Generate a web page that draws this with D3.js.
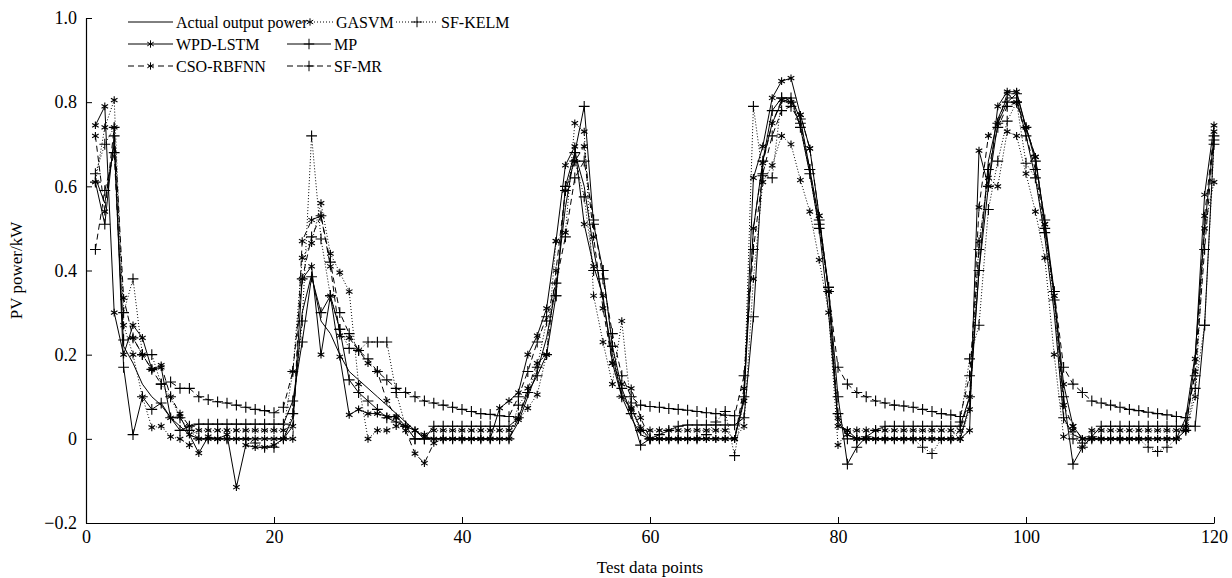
<!DOCTYPE html>
<html>
<head>
<meta charset="utf-8">
<script src="https://cdn.jsdelivr.net/npm/d3@7"></script>
<style>
  body { margin: 0; background: #fff; }
  text { font-family: "Liberation Serif", "Times New Roman", serif; }
</style>
</head>
<body>
<div id="chart"></div>
<script>
// test data points 1..120
var actual = [
  0.62,0.56,0.70,0.22,0.18,0.13,0.10,0.08,0.05,0.03,0.01,0,0,0,0,0,0,0,0,0,
  0,0.05,0.30,0.39,0.28,0.25,0.20,0.16,0.14,0.12,0.10,0.08,0.06,0.04,0.02,0,0,0,0,0,
  0,0,0,0,0,0.04,0.10,0.16,0.24,0.36,0.55,0.68,0.60,0.45,0.33,0.20,0.10,0.05,0.01,0,
  0,0,0,0,0,0,0,0,0,0.10,0.50,0.66,0.75,0.80,0.81,0.74,0.63,0.50,0.30,0.04,
  0.01,0,0,0,0,0,0,0,0,0,0,0,0,0.08,0.40,0.66,0.76,0.81,0.81,0.72,
  0.62,0.48,0.30,0.05,0.01,0,0,0,0,0,0,0,0,0,0,0,0.05,0.20,0.50,0.72
];
var wpdLstm = [
  0.745,0.79,0.30,0.20,0.27,0.24,0.165,0.17,0.05,0.053,0.01,-0.034,0.005,0,0.01,-0.115,-0.015,-0.02,-0.02,-0.015,
  0,0.03,0.38,0.41,0.20,0.34,0.195,0.057,0.07,0.06,0.06,0.053,0.053,0.03,0.02,0.005,0,0,0,0,
  0,0,0,0.073,0.09,0.11,0.20,0.245,0.31,0.47,0.65,0.695,0.51,0.41,0.34,0.18,0.10,0.073,0.025,0,
  0,0,0,0,0,0,0,0,0,0.09,0.62,0.695,0.81,0.85,0.857,0.77,0.69,0.53,0.35,0.03,
  0.02,0,0,0,0,0,0,0,0,0,0,0,0,0.02,0.685,0.60,0.79,0.825,0.825,0.74,
  0.67,0.51,0.34,0.13,0.03,0,0,0,0,0,0,0,0,0,0,0,0.02,0.19,0.58,0.745
];
var csoRbfnn = [
  0.72,0.54,0.74,0.335,0.24,0.20,0.165,0.175,0.10,0.06,0.03,0,0,0,0,0,0,0,0,0,
  0,0,0.47,0.52,0.53,0.41,0.245,0.24,0.21,0.18,0.16,0.09,0.05,0.02,-0.035,-0.058,-0.01,0,0,0,
  0,0,0,0,0,0.05,0.12,0.18,0.20,0.40,0.59,0.66,0.695,0.48,0.31,0.18,0.13,0.12,0.05,0,
  0,0,0,0,0,0,0,0,0,0.12,0.50,0.655,0.75,0.805,0.80,0.77,0.69,0.53,0.35,0.05,
  0.01,0,0,0,0,0,0,0,0,0,0,0,0.02,0.10,0.55,0.72,0.75,0.82,0.80,0.74,
  0.67,0.51,0.34,0.08,0.03,0,0,0,0,0,0,0,0,0,0,0,0.03,0.16,0.53,0.73
];
var gasvm = [
  0.61,0.74,0.805,0.27,0.20,0.10,0.027,0.03,0.005,0,-0.015,0.02,0.02,0.02,0.02,0.02,0.02,0.02,0.02,0.02,
  0.02,0.16,0.43,0.465,0.56,0.44,0.395,0.35,0.13,0,0.02,0.02,0.03,0.03,0.02,0.01,0.02,0.02,0.02,0.02,
  0.02,0.02,0.02,0.02,0.02,0.045,0.073,0.105,0.20,0.47,0.49,0.75,0.73,0.34,0.23,0.13,0.28,0.07,0.02,0.02,
  0.02,0.02,0.02,0.02,0.02,0.02,0.02,0.02,0,0.03,0.38,0.61,0.65,0.72,0.70,0.615,0.54,0.425,0.30,-0.015,
  0.02,0.02,0.02,0.02,0.02,0.02,0.02,0.02,0.02,0.02,0.02,0.02,0,0.07,0.47,0.62,0.60,0.73,0.72,0.63,
  0.54,0.43,0.20,0.005,0.02,-0.02,0.02,0.02,0.02,0.02,0.02,0.02,0.02,0.02,0.02,0.02,0.02,0.10,0.50,0.61
];
var sfKelm = [
  0.63,0.70,0.74,0.30,0.38,0.20,0.20,0.13,0.10,0.05,0.02,0,0,0,0,0,0,-0.01,-0.02,-0.02,
  0,0.06,0.28,0.72,0.475,0.34,0.26,0.215,0.21,0.23,0.23,0.23,0.11,0.03,0,0,0,0,0,0,
  0,0,0,0,0,0.08,0.11,0.17,0.28,0.34,0.59,0.66,0.575,0.40,0.40,0.22,0.10,0.085,0.02,0,
  0,0,0,0,0,0.01,0.04,0.065,-0.04,0.10,0.79,0.625,0.62,0.81,0.80,0.74,0.63,0.50,0.36,0.06,
  0,0,0,0,0,0,0,0,-0.02,-0.035,0,0,0.04,0.19,0.27,0.545,0.66,0.755,0.80,0.655,
  0.62,0.49,0.33,0.05,0,-0.01,0,0,0,0,0,0,-0.02,-0.03,-0.02,0,0.02,0.12,0.27,0.70
];
var mp = [
  0.61,0.51,0.72,0.17,0.01,0.10,0.07,0.085,0.05,0.02,0.03,0.035,0.035,0.035,0.035,0.035,0.035,0.035,0.035,0.035,
  0.035,0.09,0.23,0.385,0.30,0.34,0.26,0.14,0.11,0.09,0.07,0.05,0.04,0.03,0,0,0.03,0.03,0.03,0.03,
  0.03,0.03,0.03,0.03,0.03,0.05,0.11,0.15,0.20,0.34,0.60,0.68,0.79,0.51,0.40,0.22,0.12,0.06,-0.015,0,
  0.01,0.02,0.03,0.033,0.033,0.033,0.033,0.033,0.033,0.05,0.29,0.66,0.78,0.81,0.81,0.76,0.64,0.52,0.36,0.10,
  -0.06,-0.02,0.005,0.02,0.03,0.03,0.03,0.03,0.03,0.03,0.03,0.03,0.03,0.10,0.40,0.60,0.75,0.80,0.82,0.74,
  0.66,0.52,0.35,0.10,-0.06,-0.02,0.005,0.03,0.03,0.03,0.03,0.03,0.03,0.03,0.03,0.03,0.03,0.03,0.27,0.71
];
var sfMr = [
  0.45,0.59,0.68,0.235,0.24,0.20,0.165,0.13,0.135,0.12,0.12,0.10,0.093,0.088,0.085,0.08,0.075,0.07,0.067,0.062,
  0.075,0.16,0.38,0.48,0.53,0.42,0.30,0.25,0.21,0.19,0.16,0.14,0.12,0.11,0.10,0.09,0.085,0.08,0.075,0.07,
  0.065,0.06,0.058,0.055,0.053,0.10,0.16,0.23,0.29,0.37,0.48,0.62,0.66,0.52,0.38,0.25,0.15,0.10,0.08,0.077,
  0.075,0.072,0.07,0.068,0.065,0.062,0.06,0.056,0.055,0.15,0.45,0.63,0.72,0.78,0.79,0.75,0.64,0.51,0.35,0.17,
  0.13,0.11,0.10,0.09,0.085,0.08,0.078,0.075,0.07,0.065,0.06,0.057,0.053,0.15,0.45,0.64,0.74,0.79,0.80,0.72,
  0.64,0.50,0.35,0.17,0.13,0.11,0.09,0.085,0.08,0.075,0.07,0.067,0.063,0.06,0.057,0.053,0.05,0.15,0.45,0.72
];
var xTicks = [0, 20, 40, 60, 80, 100, 120];
var yTicks = [-0.2, 0, 0.2, 0.4, 0.6, 0.8, 1.0];

function init() {
    var w = 1232, h = 578;
    var margin = { left: 86, right: 18, top: 18, bottom: 55 };

    var series = [
        { name: "Actual output power", values: actual, dash: null, marker: null },
        { name: "WPD-LSTM", values: wpdLstm, dash: null, marker: d3.symbolAsterisk },
        { name: "CSO-RBFNN", values: csoRbfnn, dash: "6,4", marker: d3.symbolAsterisk },
        { name: "GASVM", values: gasvm, dash: "1,2", marker: d3.symbolAsterisk },
        { name: "SF-KELM", values: sfKelm, dash: "1,2", marker: d3.symbolPlus },
        { name: "MP", values: mp, dash: null, marker: d3.symbolPlus },
        { name: "SF-MR", values: sfMr, dash: "6,4", marker: d3.symbolPlus }
    ];

    var svg = d3.select("#chart")
        .append("svg")
        .attr("width", w)
        .attr("height", h);

    var xScale = d3.scaleLinear()
        .domain([0, 120])
        .range([margin.left, w - margin.right]);

    var yScale = d3.scaleLinear()
        .domain([-0.2, 1.0])
        .range([h - margin.bottom, margin.top]);

    // axes, ticks pointing inward
    var xAxis = svg.append("g")
        .attr("transform", "translate(0," + (h - margin.bottom) + ")")
        .call(d3.axisBottom(xScale).tickValues(xTicks).tickSize(-6).tickSizeOuter(0).tickPadding(4));

    var yAxis = svg.append("g")
        .attr("transform", "translate(" + margin.left + ",0)")
        .call(d3.axisLeft(yScale).tickValues(yTicks).tickSize(-6).tickSizeOuter(0).tickPadding(9)
            .tickFormat(function (d) { return Math.abs(d) < 1e-9 ? "0" : d3.format(".1f")(d); }));

    svg.selectAll(".domain").attr("stroke", "#000").attr("stroke-width", 1.2);
    svg.selectAll(".tick line").attr("stroke", "#000");
    svg.selectAll(".tick text")
        .attr("fill", "#000")
        .style("font-size", "18px")
        .style("font-family", "'Liberation Serif', serif");

    // the "0" of x axis sits under the corner
    xAxis.selectAll(".tick text").attr("dy", "0.9em");

    var line = d3.line()
        .x(function (d, i) { return xScale(i + 1); })
        .y(function (d) { return yScale(d); });

    var groups = svg.selectAll("g.series")
        .data(series)
        .enter()
        .append("g")
        .attr("class", "series");

    groups.append("path")
        .attr("d", function (d) { return line(d.values); })
        .attr("fill", "none")
        .attr("stroke", "#000")
        .attr("stroke-width", 1)
        .attr("stroke-dasharray", function (d) { return d.dash; });

    groups.filter(function (d) { return d.marker; })
        .selectAll("path.mark")
        .data(function (d) { return d.values.map(function (v, i) { return { x: i + 1, y: v, marker: d.marker }; }); })
        .enter()
        .append("path")
        .attr("class", "mark")
        .attr("transform", function (d) { return "translate(" + xScale(d.x) + "," + yScale(d.y) + ")"; })
        .attr("d", function (d) { return d3.symbol().type(d.marker).size(40)(); })
        .attr("fill", "none")
        .attr("stroke", "#000")
        .attr("stroke-width", 1.1);

    // legend
    var legendItems = [
        { s: series[0], x: 128, y: 22, len: 45 },
        { s: series[3], x: 287, y: 22, len: 46 },
        { s: series[4], x: 396, y: 22, len: 42 },
        { s: series[1], x: 128, y: 44, len: 45 },
        { s: series[5], x: 287, y: 44, len: 44 },
        { s: series[2], x: 128, y: 66, len: 45 },
        { s: series[6], x: 287, y: 66, len: 44 }
    ];

    var legend = svg.append("g");
    legendItems.forEach(function (it) {
        legend.append("line")
            .attr("x1", it.x).attr("x2", it.x + it.len)
            .attr("y1", it.y).attr("y2", it.y)
            .attr("stroke", "#000")
            .attr("stroke-width", 1)
            .attr("stroke-dasharray", it.s.dash);
        if (it.s.marker) {
            legend.append("path")
                .attr("transform", "translate(" + (it.x + it.len / 2) + "," + it.y + ")")
                .attr("d", d3.symbol().type(it.s.marker).size(38)())
                .attr("fill", "none")
                .attr("stroke", "#000");
        }
        legend.append("text")
            .attr("x", it.x + it.len + 3)
            .attr("y", it.y)
            .attr("dy", "0.35em")
            .style("font-size", "16px")
            .text(it.s.name);
    });

    svg.append("text")
        .attr("x", (margin.left + w - margin.right) / 2)
        .attr("y", 573)
        .attr("text-anchor", "middle")
        .style("font-size", "17px")
        .text("Test data points");

    svg.append("text")
        .attr("transform", "translate(22," + (yScale(0.4)) + ") rotate(-90)")
        .attr("text-anchor", "middle")
        .style("font-size", "17px")
        .text("PV power/kW");
}

window.onload = init;
</script>
</body>
</html>
